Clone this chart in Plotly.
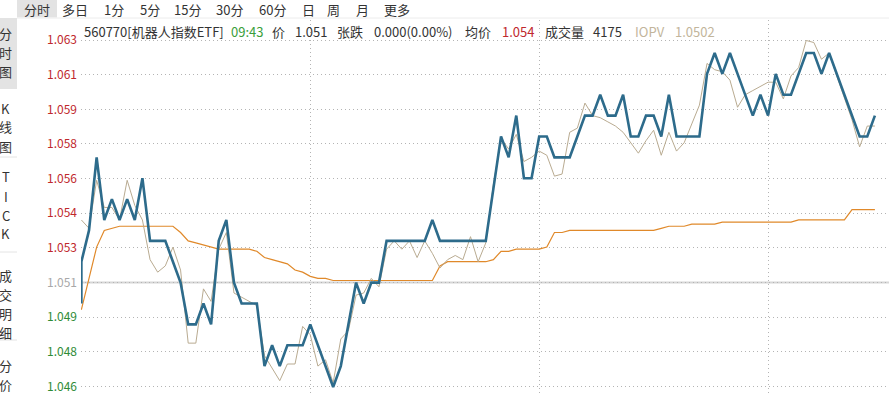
import plotly.graph_objects as go

# ---------------- data ----------------
# price (blue), first value = opening auction (drawn at slot 0)
price = [1.050,
         1.052, 1.0535, 1.057, 1.054, 1.055, 1.054, 1.055, 1.054, 1.056, 1.053,
         1.053, 1.053, 1.052, 1.051, 1.049, 1.049, 1.050, 1.049, 1.053, 1.054,
         1.051, 1.050, 1.050, 1.050, 1.047, 1.048, 1.047, 1.048, 1.048, 1.048,
         1.049, 1.048, 1.047, 1.046, 1.047, 1.049, 1.051, 1.050, 1.051, 1.051,
         1.053, 1.053, 1.053, 1.053, 1.053, 1.053, 1.054, 1.053, 1.053, 1.053,
         1.053, 1.053, 1.053, 1.053, 1.0555, 1.058, 1.057, 1.059, 1.056, 1.056,
         1.058, 1.058, 1.057, 1.057, 1.057, 1.058, 1.059, 1.059, 1.060, 1.059,
         1.059, 1.060, 1.058, 1.058, 1.059, 1.059, 1.058, 1.060, 1.058, 1.058,
         1.058, 1.058, 1.061, 1.062, 1.061, 1.062, 1.061, 1.060, 1.059, 1.060,
         1.059, 1.061, 1.060, 1.060, 1.061, 1.062, 1.062, 1.061, 1.062, 1.061,
         1.060, 1.059, 1.058, 1.058, 1.059]

iopv = [1.0540, 1.0536, 1.0559, 1.0546, 1.0546, 1.0540, 1.0559, 1.0547, 1.0540, 1.0521,
        1.0515, 1.0518, 1.0527, 1.0516, 1.0481, 1.0481, 1.0507, 1.0501, 1.0526, 1.0534,
        1.0505, 1.0503, 1.0501, 1.0499, 1.0475, 1.0469, 1.0463, 1.0471, 1.0471, 1.0489,
        1.0485, 1.0470, 1.0473, 1.0462, 1.0483, 1.0487, 1.0504, 1.0505, 1.0512, 1.0508,
        1.0526, 1.0530, 1.0526, 1.0530, 1.0522, 1.0530, 1.0524, 1.0517, 1.0521, 1.0523,
        1.0521, 1.0532, 1.0520, 1.0529, 1.0557, 1.0579, 1.0574, 1.0581, 1.0568, 1.0570,
        1.0573, 1.0571, 1.0561, 1.0562, 1.0582, 1.0584, 1.0596, 1.0590, 1.0589, 1.0587,
        1.0585, 1.0582, 1.0577, 1.0572, 1.0578, 1.0583, 1.0571, 1.0582, 1.0573, 1.0577,
        1.0586, 1.0595, 1.0615, 1.0612, 1.0611, 1.0607, 1.0594, 1.0600, 1.0602, 1.0604,
        1.0606, 1.0606, 1.0598, 1.0609, 1.0613, 1.0626, 1.0625, 1.0617, 1.0620, 1.0609,
        1.0599, 1.0588, 1.0575, 1.0585, 1.0585]

avg_price = [1.0497, 1.0512, 1.0527, 1.0535, 1.0536, 1.0537, 1.0537, 1.0537, 1.0537, 1.0537,
             1.0537, 1.0537, 1.0537, 1.0534, 1.0530, 1.0529, 1.0528, 1.0527, 1.0526, 1.0526,
             1.0526, 1.0526, 1.0526, 1.0525, 1.0522, 1.0521, 1.0520, 1.0519, 1.0516, 1.0515,
             1.0513, 1.0512, 1.0512, 1.0511, 1.0511, 1.0511, 1.0511, 1.0511, 1.0511, 1.0511,
             1.0511, 1.0511, 1.0511, 1.0511, 1.0511, 1.0511, 1.0511, 1.0518, 1.0520, 1.0520,
             1.0520, 1.0520, 1.0520, 1.0520, 1.0521, 1.0525, 1.0525, 1.0526, 1.0526, 1.0526,
             1.0526, 1.0527, 1.0534, 1.0534, 1.0535, 1.0535, 1.0535, 1.0535, 1.0535, 1.0535,
             1.0535, 1.0535, 1.0535, 1.0535, 1.0535, 1.0535, 1.0536, 1.0537, 1.0537, 1.0537,
             1.0538, 1.0538, 1.0538, 1.0538, 1.0539, 1.0539, 1.0539, 1.0539, 1.0539, 1.0539,
             1.0539, 1.0539, 1.0539, 1.0539, 1.0540, 1.0540, 1.0540, 1.0540, 1.0540, 1.0540,
             1.0540, 1.0545, 1.0545, 1.0545, 1.0545]

prev_close = 1.051
tick_step = 0.00166
tick_labels = ["1.046", "1.048", "1.049", "1.051", "1.053", "1.054",
               "1.056", "1.058", "1.059", "1.061", "1.063"]

tabs = ["分时", "多日", "1分", "5分", "15分", "30分", "60分", "日", "周", "月", "更多"]
side_blocks = [["分", "时", "图"], ["K", "线", "图"], ["T", "I", "C", "K"],
               ["成", "交", "明", "细"], ["分", "价"]]
title_items = ["560770[机器人指数ETF]", "09:43", "价", "1.051", "张跌", "0.000(0.00%)",
               "均价", "1.054", "成交量", "4175", "IOPV", "1.0502"]

# ---------------- layout helpers ----------------
W, H = 889, 393
L, T = 81, 20
PW, PH = W - L, H - T
FONT = "Noto Sans CJK SC, Noto Sans, sans-serif"


def px(x):
    return (x - L) / PW


def py(y):
    return (H - y) / PH


n = len(iopv)
x_idx = list(range(n))
x_price = [0] + x_idx

RED, GREEN, GRAY = "#c0282d", "#2e8b36", "#a8a8a8"

tickvals = [prev_close + k * tick_step for k in range(-3, 8)]
ticktext = []
for v, lab in zip(tickvals, tick_labels):
    if abs(v - prev_close) < 1e-9:
        c = GRAY
    elif v > prev_close:
        c = RED
    else:
        c = GREEN
    ticktext.append(f'<span style="color:{c}">{lab}</span>')

fig = go.Figure()
fig.add_trace(go.Scatter(x=x_idx, y=avg_price, mode="lines",
                         line=dict(color="#e0892a", width=1.2), hoverinfo="skip"))
fig.add_trace(go.Scatter(x=x_idx, y=iopv, mode="lines",
                         line=dict(color="#b9ab91", width=1), hoverinfo="skip"))
fig.add_trace(go.Scatter(x=x_price, y=price, mode="lines",
                         line=dict(color="#2d6b8b", width=2.6), hoverinfo="skip"))

shapes = []
# prev close reference line
shapes.append(dict(type="line", xref="paper", yref="y", x0=0, x1=1, y0=prev_close, y1=prev_close,
                   line=dict(color="#d6d6d6", width=2), layer="between"))
# tab bar
shapes.append(dict(type="rect", xref="paper", yref="paper", x0=px(17), x1=px(57), y0=py(17.5), y1=py(0),
                   fillcolor="#e3e3e3", line=dict(width=0), layer="above"))
shapes.append(dict(type="line", xref="paper", yref="paper", x0=px(17), x1=px(W), y0=py(18), y1=py(18),
                   line=dict(color="#ececec", width=1), layer="above"))
# sidebar highlight
shapes.append(dict(type="rect", xref="paper", yref="paper", x0=px(0), x1=px(17), y0=py(89), y1=py(18),
                   fillcolor="#e3e3e3", line=dict(width=0), layer="above"))
for sy in [157, 252, 340]:
    shapes.append(dict(type="line", xref="paper", yref="paper", x0=px(0), x1=px(17), y0=py(sy), y1=py(sy),
                       line=dict(color="#e4e4e4", width=1), layer="above"))

ann = []
tab_x = [37, 75, 114, 150, 187, 229, 272, 308, 333, 362, 397]
for t, cx in zip(tabs, tab_x):
    ann.append(dict(text=t, x=px(cx), y=py(10), xref="paper", yref="paper", showarrow=False,
                    xanchor="center", yanchor="middle", font=dict(family=FONT, size=13, color="#333333")))

side_start = [33.5, 108, 177, 275, 365]
for block, y0 in zip(side_blocks, side_start):
    for k, ch in enumerate(block):
        ann.append(dict(text=ch, x=px(5.5), y=py(y0 + k * 19), xref="paper", yref="paper",
                        showarrow=False, xanchor="center", yanchor="middle",
                        font=dict(family=FONT, size=13, color="#333333")))

DARK = "#333333"
TAN = "#c2b59b"
title_x = [82, 229, 270, 293, 335, 372, 463, 500, 543, 591, 633, 673]
title_c = [DARK, "#3a9e3a", DARK, DARK, DARK, DARK, DARK, RED, DARK, DARK, TAN, TAN]
for t, x0, c in zip(title_items, title_x, title_c):
    ann.append(dict(text=t, x=px(x0), y=py(31), xref="paper", yref="paper", showarrow=False,
                    xanchor="left", yanchor="middle", font=dict(family=FONT, size=13, color=c)))

fig.update_layout(
    width=W, height=H,
    margin=dict(l=L, r=0, t=T, b=0, pad=0),
    paper_bgcolor="white", plot_bgcolor="white",
    showlegend=False,
    font=dict(family=FONT, size=12),
    shapes=shapes, annotations=ann,
    xaxis=dict(range=[-0.05, PW / 7.63 - 0.05], showgrid=True, tick0=0, dtick=30,
               gridcolor="#b4b4b4", griddash="1px,3px", gridwidth=1,
               showticklabels=False, zeroline=False, showline=False, ticks="", fixedrange=True),
    yaxis=dict(range=[1.045711, 1.063580], tickmode="array", tickvals=tickvals, ticktext=ticktext,
               showgrid=True, gridcolor="#b4b4b4", griddash="1px,3px", gridwidth=1,
               zeroline=False, showline=False, ticks="", ticklabelstandoff=3,
               ticklabeloverflow="allow",
               tickfont=dict(family=FONT, size=12), fixedrange=True),
)

fig.write_html("out.html", config={"displayModeBar": False})
